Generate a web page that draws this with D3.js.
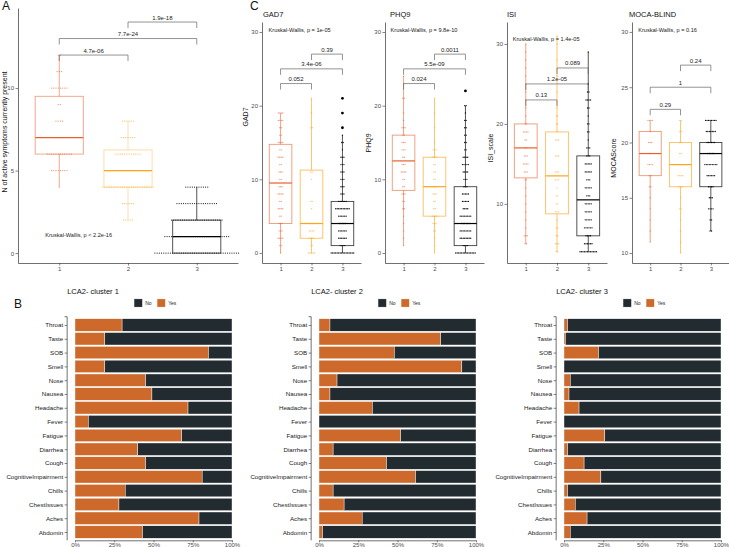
<!DOCTYPE html>
<html><head><meta charset="utf-8">
<script src="https://cdn.jsdelivr.net/npm/d3@7"></script>
<style>
body{margin:0;background:#fff}
text{font-family:"Liberation Sans",Arial,Helvetica,sans-serif}
</style>
</head><body>
<script>
// ---------------- DATA ----------------
const clusters = ["1","2","3"];
const clusterColors = ["#E8602C","#FFA31A","#000000"];

// Panel A: N of active symptoms  [q1, median, q3, whiskerLow, whiskerHigh]
const aBoxes = [[6,7,9.5,4,12],[4,5,6.25,2,8],[0,1,2,0,4]];
// dot rows: [value, count]
const aDots1 = [[12,2],[11,3],[10,8],[9,2],[8,4],[7,5],[6,12],[5,8],[4,1]];
const aDots2 = [[8,6],[7,7],[6,12],[5,10],[4,24],[3,6],[2,5]];
const aDots3 = [[4,11],[3,19],[2,24],[1,30],[0,39]];
const aBrackets = [["1","2",12,"4.7e-06"],["1","3",13,"7.7e-24"],["2","3",14,"1.9e-18"]];
const aKW = "Kruskal-Wallis, p < 2.2e-16";
const aTicks = [0,5,10];

// Panel C: GAD7
const gadBoxes = [[4,9.5,14.75,0,19],[2,4,11.25,0,21],[1,4,7,0,16]];
const gadDots1 = [[0,1],[1,2],[2,4],[3,3],[4,3],[5,2],[6,4],[7,2],[8,4],[9,3],[10,2],[11,3],[12,2],[13,4],[14,2],[15,4],[16,2],[17,2],[18,4],[19,4]];
const gadDots2 = [[0,5],[1,2],[2,3],[3,4],[4,4],[6,1],[7,2],[10,1],[11,2],[17,2],[19,1],[21,1]];
const gadDots3 = [[0,16],[1,4],[2,6],[3,6],[4,5],[5,6],[6,10],[7,6],[8,3],[9,3],[10,3],[11,3],[12,3],[13,3],[14,1],[15,2],[16,1]];
const gadOut3 = [17,19,21];
const gadBrackets = [["1","2",23,"0.052"],["1","3",25,"3.4e-06"],["2","3",27,"0.39"]];
const gadKW = "Kruskal-Wallis, p = 1e-05";

// PHQ9
const phqBoxes = [[8.5,12.5,16,1,24],[5,9,13,0,21],[1,4,9,0,20]];
const phqDots1 = [[1,1],[2,1],[3,1],[4,1],[5,1],[6,2],[7,2],[8,3],[9,2],[10,2],[11,4],[12,3],[13,2],[14,3],[15,3],[16,2],[17,3],[18,1],[19,1],[21,2],[23,1],[24,1]];
const phqDots2 = [[0,1],[1,1],[2,1],[3,2],[4,3],[5,4],[6,2],[7,2],[8,3],[9,2],[10,2],[11,2],[12,2],[13,3],[14,3],[15,1],[17,1],[19,1],[21,1]];
const phqDots3 = [[0,14],[1,4],[2,8],[3,8],[4,6],[5,8],[6,4],[7,5],[8,5],[9,3],[10,3],[11,4],[12,5],[13,4],[14,2],[15,2],[16,2],[17,2],[18,2],[19,1],[20,2]];
const phqOut3 = [22];
const phqBrackets = [["1","2",23,"0.024"],["1","3",25,"5.5e-09"],["2","3",27,"0.0011"]];
const phqKW = "Kruskal-Wallis, p = 9.8e-10";

// ISI
const isiBoxes = [[13.25,17,20,5,30],[8.75,13.5,19,4,31],[6,10.5,16,4,29]];
const isiDots1 = [[5,2],[6,3],[7,1],[8,1],[9,1],[10,1],[11,1],[12,1],[13,2],[14,3],[15,4],[16,3],[17,2],[18,2],[19,4],[20,2],[21,1],[22,1],[23,1],[24,1],[25,1],[26,1],[27,1],[28,1],[29,1],[30,1]];
const isiDots2 = [[4,2],[5,3],[6,2],[7,2],[8,1],[9,3],[10,2],[11,2],[12,1],[13,3],[14,3],[16,3],[18,3],[19,1],[20,2],[21,2],[22,1],[24,1],[26,1],[28,1],[30,1],[31,1]];
const isiDots3 = [[4,12],[5,6],[6,4],[7,6],[8,5],[9,5],[10,5],[11,3],[12,5],[13,3],[14,5],[15,5],[16,3],[17,3],[18,1],[19,2],[20,2],[21,1],[22,2],[23,4],[24,2],[25,1],[29,1]];
const isiBrackets = [["1","2",23,"0.13"],["1","3",25,"1.2e-05"],["2","3",27,"0.089"]];
const isiKW = "Kruskal-Wallis, p = 1.4e-05";

// MOCA-BLIND
const mocaBoxes = [[17,19,21,11,22],[16,18,20,10,22],[16,19,20,12,22]];
const mocaDots1 = [[22,4],[21,1],[20,3],[19,2],[18,4],[17,2],[16,2],[15,1],[14,1],[13,1],[12,1],[11,1]];
const mocaDots2 = [[22,2],[21,2],[20,2],[19,2],[18,3],[17,4],[16,3],[15,1],[14,2],[13,1],[12,1],[11,1],[10,1]];
const mocaDots3 = [[22,8],[21,7],[20,6],[19,5],[18,9],[17,6],[16,4],[15,3],[14,4],[13,2],[12,2]];
const mocaBrackets = [["1","2",23,"0.29"],["1","3",25,"1"],["2","3",27,"0.24"]];
const mocaKW = "Kruskal-Wallis, p = 0.16";

// Panel B
const symptoms = ["Throat","Taste","SOB","Smell","Nose","Nausea","Headache","Fever","Fatigue","Diarrhea","Cough","CognitiveImpairment","Chills","ChestIssues","Aches","Abdomin"];
const yesCluster1 = [30,19,85,19,45,49,72,8.5,68,40,45,81,32,28,79,43];
const yesCluster2 = [7,77.5,48,91,11.5,7,34,0,52,9,43,61.5,9,16,27.5,2.3];
const yesCluster3 = [2.3,0.9,22,0,4,3.2,9.6,0,26,2.3,12.8,23.5,2.3,7.2,14.7,4];
const pctTicks = [0,25,50,75,100];
const yesColor = "#CD6A2B", noColor = "#212B30";

// ---------------- DRAW ----------------
const W = 729, H = 547;
const svg = d3.select("body").append("svg").attr("width", W).attr("height", H);

function styleAxis(a, fs){
  a.select(".domain").attr("stroke","#333").attr("stroke-width",0.7);
  a.selectAll(".tick line").attr("stroke","#333").attr("stroke-width",0.6);
  a.selectAll(".tick text").attr("fill","#4D4D4D").attr("font-size",fs).attr("font-family","Liberation Sans, Arial, sans-serif");
}

function boxPanel(o){
  const g = svg.append("g");
  const x = d3.scalePoint().domain(clusters).range([o.left, o.right]).padding(0.6);
  const y = d3.scaleLinear().domain(o.yDomain).range([263, o.top]);
  const bw = x.step()*o.boxW;
  const ya = g.append("g").attr("transform",`translate(${o.left},0)`)
    .call(d3.axisLeft(y).tickValues(o.yTicks).tickSize(2.5).tickSizeOuter(0).tickPadding(1.5));
  const xa = g.append("g").attr("transform",`translate(0,263)`)
    .call(d3.axisBottom(x).tickSize(2.5).tickSizeOuter(0).tickPadding(1.5));
  styleAxis(ya, 6); styleAxis(xa, 6);
  if (o.title) g.append("text").attr("x", o.titleX).attr("y", 17).attr("font-size", 7.5).attr("fill","#111").text(o.title);
  g.append("text").attr("transform",`translate(${o.ylabX},${o.ylabY}) rotate(-90)`)
    .attr("text-anchor","middle").attr("font-size",7).attr("fill","#111").text(o.ylab);

  o.boxes.forEach((b,i)=>{
    const cx = x(clusters[i]), col = clusterColors[i];
    const ba = o.boxAlpha[i];
    // dots
    o.dots[i].forEach(([v,n])=>{
      for (let k=0;k<n;k++){
        g.append("circle").attr("cx", cx + (k-(n-1)/2)*o.sp).attr("cy", y(v))
          .attr("r", o.r).attr("fill", col).attr("fill-opacity", o.dotAlpha[i]);
      }
    });
    // whiskers
    g.append("line").attr("x1",cx).attr("x2",cx).attr("y1",y(b[3])).attr("y2",y(b[0]))
      .attr("stroke",col).attr("stroke-opacity",ba).attr("stroke-width",0.9);
    g.append("line").attr("x1",cx).attr("x2",cx).attr("y1",y(b[2])).attr("y2",y(b[4]))
      .attr("stroke",col).attr("stroke-opacity",ba).attr("stroke-width",0.9);
    // box
    g.append("rect").attr("x",cx-bw/2).attr("y",y(b[2])).attr("width",bw).attr("height",y(b[0])-y(b[2]))
      .attr("fill","none").attr("stroke",col).attr("stroke-opacity",ba).attr("stroke-width",0.9);
    // median
    g.append("line").attr("x1",cx-bw/2).attr("x2",cx+bw/2).attr("y1",y(b[1])).attr("y2",y(b[1]))
      .attr("stroke",col).attr("stroke-width",1.2);
    // outliers
    (o.outliers && o.outliers[i] || []).forEach(v=>{
      g.append("circle").attr("cx",cx).attr("cy",y(v)).attr("r",1.4).attr("fill",col);
    });
  });
  // brackets
  o.brackets.forEach(([a,b,v,lab])=>{
    const x1 = x(a), x2 = x(b), yy = y(v);
    g.append("path").attr("d",`M${x1},${yy+6}V${yy}H${x2}V${yy+6}`)
      .attr("fill","none").attr("stroke","#666").attr("stroke-width",0.7);
    g.append("text").attr("x",(x1+x2)/2).attr("y",yy-2.5).attr("text-anchor","middle")
      .attr("font-size",6).attr("fill","#222").text(lab);
  });
  g.append("text").attr("x", x("1")+o.kwDx).attr("y", y(o.kwY)+2).attr("font-size",5.6).attr("fill","#222").text(o.kw);
}

// Panel A
boxPanel({left:18,right:238,top:8,yDomain:[-0.6,14.85],yTicks:aTicks,boxW:0.7,
  boxes:aBoxes,dots:[aDots1,aDots2,aDots3],sp:2.2,r:0.6,dotAlpha:[0.75,0.75,0.9],
  boxAlpha:[0.6,0.4,0.75],brackets:aBrackets,kw:aKW,kwY:1.1,kwDx:-14,
  ylab:"N of active symptoms currently present",ylabX:7,ylabY:132});

const cCommon = {boxW:0.73,sp:1.5,r:0.7,dotAlpha:[0.6,0.6,0.9],boxAlpha:[0.65,0.7,0.75],top:22};
boxPanel(Object.assign({},cCommon,{left:262,right:361,yDomain:[-1.36,31.36],yTicks:[0,10,20,30],
  boxes:gadBoxes,dots:[gadDots1,gadDots2,gadDots3],outliers:[[],[],gadOut3],brackets:gadBrackets,
  kw:gadKW,kwY:30.3,kwDx:-12,title:"GAD7",titleX:263,ylab:"GAD7",ylabX:248,ylabY:117}));
boxPanel(Object.assign({},cCommon,{left:385,right:484,yDomain:[-1.36,31.36],yTicks:[0,10,20,30],
  boxes:phqBoxes,dots:[phqDots1,phqDots2,phqDots3],outliers:[[],[],phqOut3],brackets:phqBrackets,
  kw:phqKW,kwY:30.3,kwDx:-13,title:"PHQ9",titleX:390,ylab:"PHQ9",ylabX:371,ylabY:143}));
boxPanel(Object.assign({},cCommon,{left:507,right:607,yDomain:[2.6,32.75],yTicks:[10,20,30],
  boxes:isiBoxes,dots:[isiDots1,isiDots2,isiDots3],brackets:isiBrackets,
  kw:isiKW,kwY:30.6,kwDx:-13,title:"ISI",titleX:507,ylab:"ISI_scale",ylabX:493,ylabY:148}));
boxPanel(Object.assign({},cCommon,{left:632,right:729,yDomain:[9.1,30.9],yTicks:[10,15,20,25,30],
  boxes:mocaBoxes,dots:[mocaDots1,mocaDots2,mocaDots3],brackets:mocaBrackets,
  kw:mocaKW,kwY:30.2,kwDx:-12,title:"MOCA-BLIND",titleX:629,ylab:"MOCAScore",ylabX:616,ylabY:158}));

// Panel B bars
function barPanel(o){
  const g = svg.append("g");
  const x = d3.scaleLinear().domain([0,100]).range([o.x0,o.x1]);
  const left = x(-5), bottom = 540.3;
  const y = d3.scalePoint().domain(symptoms).range([316.7,bottom]).padding(0.6);
  const bh = y.step()*0.9;
  symptoms.forEach((s,i)=>{
    const v = o.yes[i];
    g.append("rect").attr("x",x(0)).attr("y",y(s)-bh/2).attr("width",x(v)-x(0)).attr("height",bh)
      .attr("fill",yesColor).attr("stroke","#fff").attr("stroke-width",0.4);
    g.append("rect").attr("x",x(v)).attr("y",y(s)-bh/2).attr("width",x(100)-x(v)).attr("height",bh)
      .attr("fill",noColor).attr("stroke","#fff").attr("stroke-width",0.4);
  });
  const ya = g.append("g").attr("transform",`translate(${left},0)`)
    .call(d3.axisLeft(y).tickSize(2.5).tickSizeOuter(0).tickPadding(1.5));
  const xa = g.append("g").attr("transform",`translate(0,${bottom})`)
    .call(d3.axisBottom(x).tickValues(pctTicks).tickFormat(d=>d+"%").tickSize(2).tickSizeOuter(0).tickPadding(0.5));
  ya.select(".domain").attr("d",`M-2.5,316.7H0V${bottom}`);
  styleAxis(ya,6.2); styleAxis(xa,6);
  ya.selectAll(".tick text").attr("fill","#222");
  g.append("text").attr("x",left).attr("y",294).attr("font-size",7.5).attr("fill","#111").text(o.title);
  const lx = left+67;
  g.append("rect").attr("x",lx).attr("y",299).attr("width",8).attr("height",8).attr("fill",noColor).attr("stroke","#999").attr("stroke-width",0.3);
  g.append("text").attr("x",lx+11).attr("y",305).attr("font-size",5).attr("fill","#222").text("No");
  g.append("rect").attr("x",lx+23).attr("y",299).attr("width",8).attr("height",8).attr("fill",yesColor).attr("stroke","#f3c9a8").attr("stroke-width",0.3);
  g.append("text").attr("x",lx+34).attr("y",305).attr("font-size",5).attr("fill","#222").text("Yes");
}
barPanel({x0:75,x1:232,yes:yesCluster1,title:"LCA2- cluster 1"});
barPanel({x0:319,x1:476,yes:yesCluster2,title:"LCA2- cluster 2"});
barPanel({x0:564,x1:721,yes:yesCluster3,title:"LCA2- cluster 3"});

// Panel letters
svg.append("text").attr("x",2).attr("y",10).attr("font-size",12).attr("fill","#111").text("A");
svg.append("text").attr("x",250).attr("y",10).attr("font-size",12).attr("fill","#111").text("C");
svg.append("text").attr("x",14).attr("y",308).attr("font-size",12).attr("fill","#111").text("B");
</script>
</body></html>
